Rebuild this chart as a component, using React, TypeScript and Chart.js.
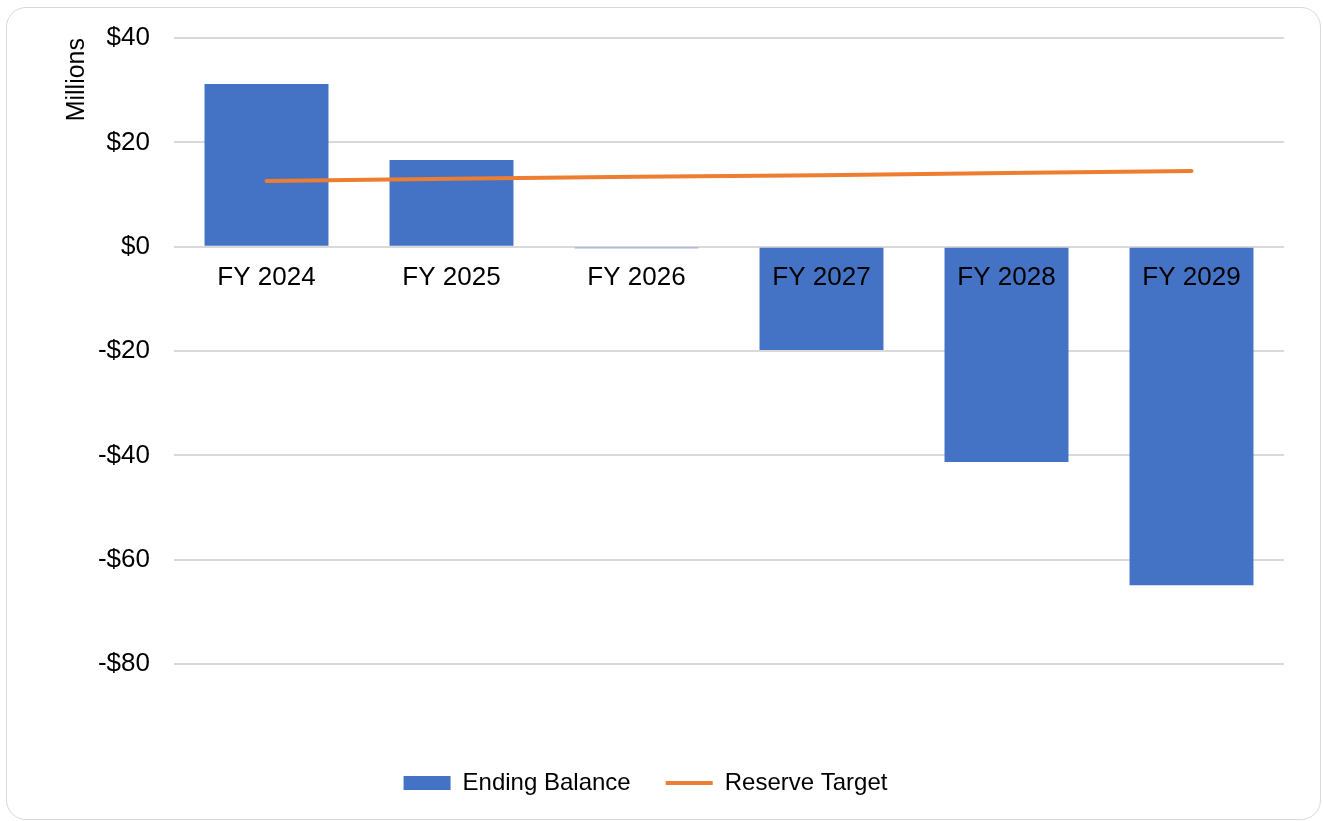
import React, { useEffect, useRef } from "react";
import { Chart, registerables } from "chart.js";

Chart.register(...registerables);

const categories = ["FY 2024", "FY 2025", "FY 2026", "FY 2027", "FY 2028", "FY 2029"];
const endingBalance = [31.2, 16.6, -0.3, -19.8, -41.3, -64.9];
const reserveTarget = [12.6, 13.0, 13.4, 13.7, 14.1, 14.5];
const yMin = -80;
const yMax = 40;
const yStep = 20;

const FONT = "'Liberation Sans', Arial, sans-serif";

export default function App() {
  const ref = useRef<HTMLCanvasElement | null>(null);

  useEffect(() => {
    if (!ref.current) return;
    const chart = new Chart(ref.current, {
      type: "bar",
      data: {
        labels: categories,
        datasets: [
          {
            type: "bar",
            label: "Ending Balance",
            data: endingBalance,
            backgroundColor: "#4472C4",
            borderWidth: 0,
            barPercentage: 0.67,
            categoryPercentage: 1,
            pointStyle: "rect",
            order: 1,
          },
          {
            type: "line",
            label: "Reserve Target",
            data: reserveTarget,
            borderColor: "#ED7D31",
            backgroundColor: "#ED7D31",
            borderWidth: 4,
            borderCapStyle: "round",
            pointRadius: 0,
            pointHoverRadius: 0,
            pointStyle: "line",
            tension: 0,
            order: 0,
          },
        ],
      },
      options: {
        responsive: false,
        animation: false,
        layout: { padding: { top: 30, right: 36, bottom: 14, left: 0 } },
        plugins: {
          tooltip: { enabled: false },
          legend: {
            position: "bottom",
            labels: {
              usePointStyle: true,
              pointStyleWidth: 47,
              boxHeight: 14,
              padding: 35,
              color: "#000",
              font: { family: FONT, size: 24 },
              sort: (a: any, b: any) => a.datasetIndex - b.datasetIndex,
            },
          },
        },
        scales: {
          x: {
            type: "category",
            position: { y: 0 } as any,
            grid: { display: false },
            border: { display: false },
            ticks: {
              z: 1,
              color: "#000",
              font: { family: FONT, size: 26 },
              padding: 8,
              maxRotation: 0,
            },
          },
          xSpacer: {
            type: "linear",
            axis: "x",
            position: "bottom",
            display: false,
            afterFit: (s: any) => {
              s.height = 72;
            },
          },
          y: {
            type: "linear",
            min: yMin,
            max: yMax,
            position: "left",
            afterFit: (s: any) => {
              s.width = 167;
              s.paddingTop = 0;
              s.paddingBottom = 0;
            },
            grid: { color: "#d9d9d9", lineWidth: 2, drawTicks: false },
            border: { display: false },
            ticks: {
              stepSize: yStep,
              padding: 24,
              color: "#000",
              font: { family: FONT, size: 26 },
              callback: (v: any) => (Number(v) < 0 ? "-$" + Math.abs(Number(v)) : "$" + v),
            },
            title: {
              display: true,
              text: "Millions",
              align: "end",
              color: "#000",
              font: { family: FONT, size: 25 },
              padding: { top: 55, bottom: 0 },
            },
          },
        },
      } as any,
    });
    return () => chart.destroy();
  }, []);

  return (
    <div
      style={{
        position: "absolute",
        left: 6,
        top: 7,
        width: 1315,
        height: 813,
        boxSizing: "border-box",
        border: "1px solid #d9d9d9",
        borderRadius: 20,
        background: "#fff",
        overflow: "hidden",
      }}
    >
      <canvas ref={ref} width={1313} height={811} style={{ display: "block" }} />
    </div>
  );
}
